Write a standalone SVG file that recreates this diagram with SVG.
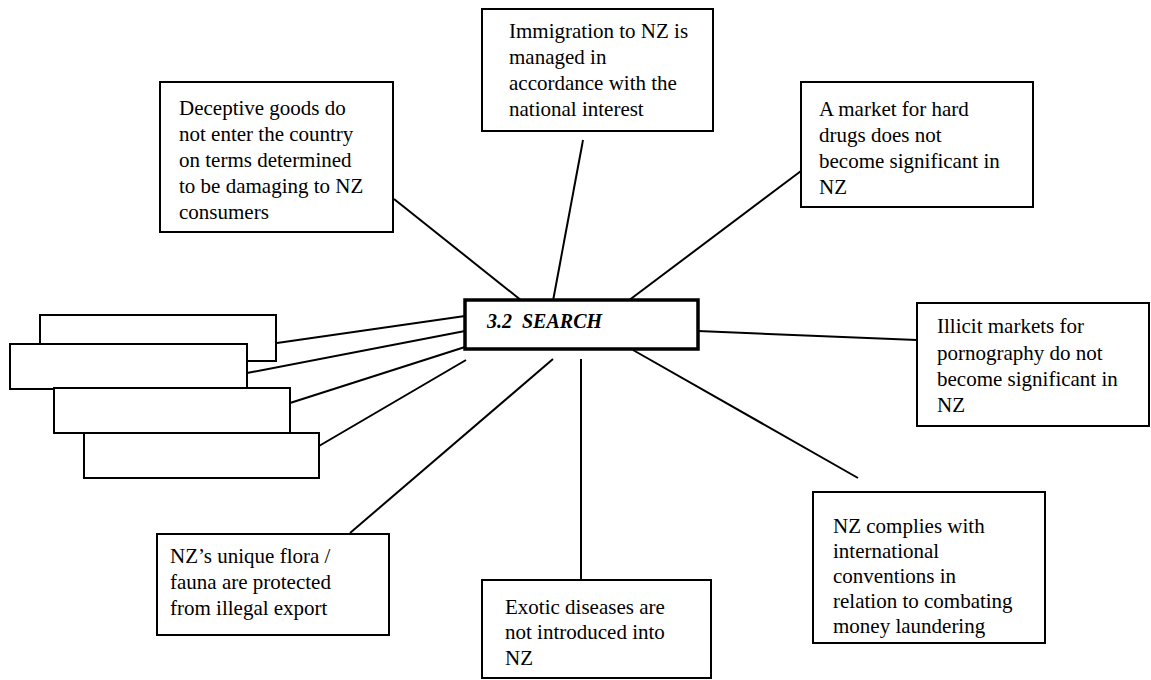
<svg xmlns="http://www.w3.org/2000/svg" width="1151" height="680" viewBox="0 0 1151 680">
<style>
.box{fill:#fff;stroke:#000;stroke-width:2}
.center{fill:#fff;stroke:#000;stroke-width:3.5}
.t{font-family:"Liberation Serif","Times New Roman",serif;font-size:21px;fill:#000}
.ct{font-family:"Liberation Serif","Times New Roman",serif;font-size:20px;font-style:italic;font-weight:bold;fill:#000}
.ln{stroke:#000;stroke-width:2;fill:none}
</style>
<rect width="1151" height="680" fill="#fff"/>
<g id="connectors">
<line class="ln" x1="394" y1="199" x2="522" y2="301"/>
<line class="ln" x1="583" y1="140" x2="553" y2="301"/>
<line class="ln" x1="801" y1="171" x2="628" y2="301"/>
<line class="ln" x1="698" y1="331" x2="917" y2="340"/>
<line class="ln" x1="633" y1="350" x2="858" y2="478"/>
<line class="ln" x1="581" y1="359" x2="581" y2="579"/>
<line class="ln" x1="553" y1="359" x2="350" y2="533"/>
<line class="ln" x1="277" y1="343" x2="465" y2="316"/>
<line class="ln" x1="247" y1="373" x2="465" y2="331"/>
<line class="ln" x1="290" y1="403" x2="465" y2="347"/>
<line class="ln" x1="319" y1="446" x2="466" y2="360"/>
</g>
<g id="n-blank1"><rect class="box" x="40" y="315" width="236" height="46"/></g>
<g id="n-blank2"><rect class="box" x="10" y="344" width="237" height="45"/></g>
<g id="n-blank3"><rect class="box" x="54" y="388" width="236" height="45"/></g>
<g id="n-blank4"><rect class="box" x="84" y="433" width="235" height="45"/></g>
<g id="n-center">
<rect class="center" x="465" y="300" width="233" height="49"/>
<text class="ct" x="487" y="328" xml:space="preserve">3.2  SEARCH</text>
</g>
<g id="n-deceptive">
<rect class="box" x="160" y="82" width="233" height="150"/>
<text class="t" x="179" y="115">Deceptive goods do</text>
<text class="t" x="179" y="141">not enter the country</text>
<text class="t" x="179" y="167">on terms determined</text>
<text class="t" x="179" y="193">to be damaging to NZ</text>
<text class="t" x="179" y="219">consumers</text>
</g>
<g id="n-immigration">
<rect class="box" x="482" y="9" width="231" height="122"/>
<text class="t" x="509" y="38">Immigration to NZ is</text>
<text class="t" x="509" y="64">managed in</text>
<text class="t" x="509" y="90">accordance with the</text>
<text class="t" x="509" y="116">national interest</text>
</g>
<g id="n-drugs">
<rect class="box" x="801" y="82" width="232" height="125"/>
<text class="t" x="819" y="116">A market for hard</text>
<text class="t" x="819" y="142">drugs does not</text>
<text class="t" x="819" y="168">become significant in</text>
<text class="t" x="819" y="194">NZ</text>
</g>
<g id="n-illicit">
<rect class="box" x="917" y="303" width="232" height="123"/>
<text class="t" x="937" y="333">Illicit markets for</text>
<text class="t" x="937" y="360">pornography do not</text>
<text class="t" x="937" y="386">become significant in</text>
<text class="t" x="937" y="412">NZ</text>
</g>
<g id="n-money">
<rect class="box" x="813" y="492" width="232" height="151"/>
<text class="t" x="833" y="533">NZ complies with</text>
<text class="t" x="833" y="558">international</text>
<text class="t" x="833" y="583">conventions in</text>
<text class="t" x="833" y="608">relation to combating</text>
<text class="t" x="833" y="633">money laundering</text>
</g>
<g id="n-exotic">
<rect class="box" x="482" y="580" width="229" height="98"/>
<text class="t" x="505" y="614">Exotic diseases are</text>
<text class="t" x="505" y="639">not introduced into</text>
<text class="t" x="505" y="665">NZ</text>
</g>
<g id="n-flora">
<rect class="box" x="157" y="534" width="232" height="101"/>
<text class="t" x="170" y="563">NZ’s unique flora /</text>
<text class="t" x="170" y="589">fauna are protected</text>
<text class="t" x="170" y="615">from illegal export</text>
</g>
</svg>
